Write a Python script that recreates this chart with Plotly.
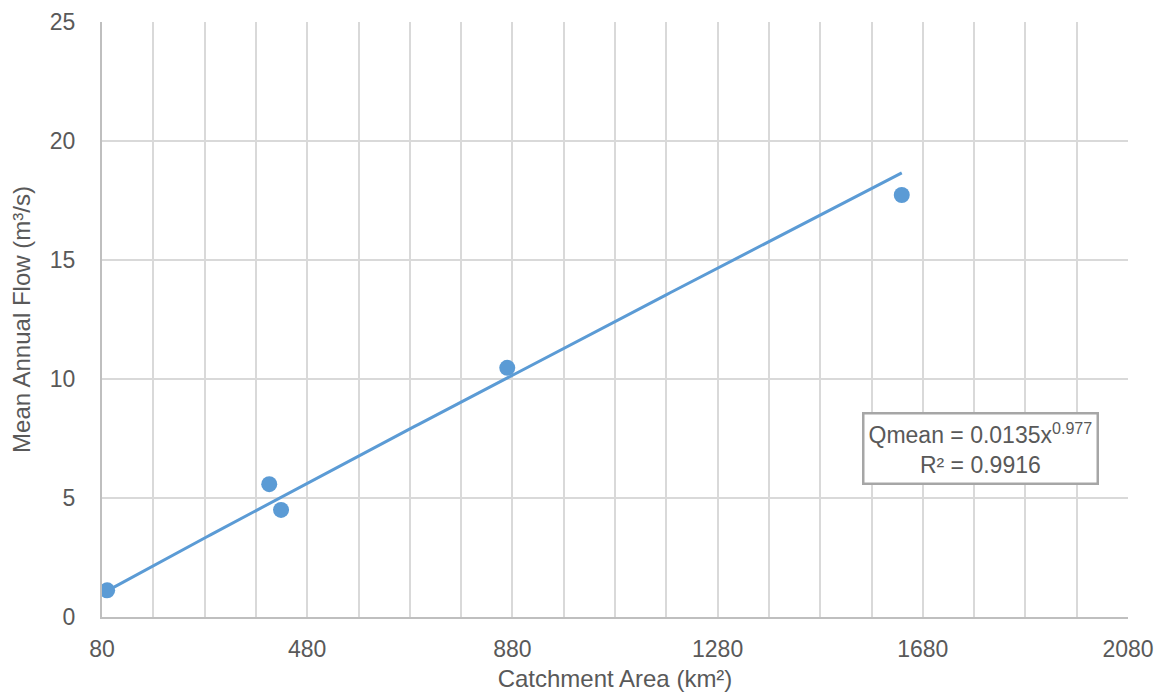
import numpy as np
import plotly.graph_objects as go

# Data
catchment_area = [90, 406, 429, 870, 1639]      # km²
mean_flow = [1.12, 5.58, 4.5, 10.47, 17.73]      # m³/s

# Power trendline shown on the chart: Q = a * x^b
coef_a = 0.0135
coef_b = 0.977
r_squared = 0.9916

x_ticks = [80, 480, 880, 1280, 1680, 2080]
y_ticks = [0, 5, 10, 15, 20, 25]

blue = "#5B9BD5"
grey_text = "#595959"
grid = "#D9D9D9"

x_fit = np.linspace(min(catchment_area), max(catchment_area), 200)
y_fit = coef_a * x_fit ** coef_b

fig = go.Figure()
fig.add_trace(go.Scatter(x=x_fit, y=y_fit, mode="lines",
                         line=dict(color=blue, width=3), hoverinfo="skip",
                         showlegend=False))
fig.add_trace(go.Scatter(x=catchment_area, y=mean_flow, mode="markers",
                         marker=dict(color=blue, size=16), showlegend=False))

font_family = "Liberation Sans, Arial, sans-serif"
fs = 23

fig.update_layout(
    width=1162, height=693,
    margin=dict(l=102, r=34, t=22, b=76),
    plot_bgcolor="white", paper_bgcolor="white",
    font=dict(family=font_family, color=grey_text, size=fs),
    xaxis=dict(
        range=[80, 2080], tickmode="array", tickvals=x_ticks,
        ticktext=[str(v) for v in x_ticks],
        showgrid=True, gridcolor=grid, gridwidth=1.5,
        minor=dict(dtick=100, tick0=80, showgrid=True, gridcolor=grid, gridwidth=1.5),
        showline=True, linecolor="#BFBFBF", linewidth=2,
        zeroline=False, ticks="", ticklabelstandoff=10,
        tickfont=dict(size=fs, color=grey_text), automargin=False,
        title=dict(text="Catchment Area (km²)", font=dict(size=24, color=grey_text), standoff=10),
    ),
    yaxis=dict(
        range=[0, 25], tickmode="array", tickvals=y_ticks,
        showgrid=True, gridcolor=grid, gridwidth=1.5,
        showline=True, linecolor="#BFBFBF", linewidth=2,
        zeroline=False, ticks="", ticklabelstandoff=20,
        tickfont=dict(size=fs, color=grey_text), automargin=False,
        title=dict(text="Mean Annual Flow (m³/s)", font=dict(size=24, color=grey_text), standoff=12),
    ),
    annotations=[dict(
        x=0.856, y=0.2824, xref="paper", yref="paper",
        xanchor="center", yanchor="middle",
        text=f"Qmean = {coef_a}x<sup>{coef_b}</sup><br>R² = {r_squared}",
        showarrow=False, font=dict(size=fs, color=grey_text),
        bordercolor="#A6A6A6", borderwidth=2.5, borderpad=4, bgcolor="white",
        align="center",
    )],
)

fig.write_html("out.html")
